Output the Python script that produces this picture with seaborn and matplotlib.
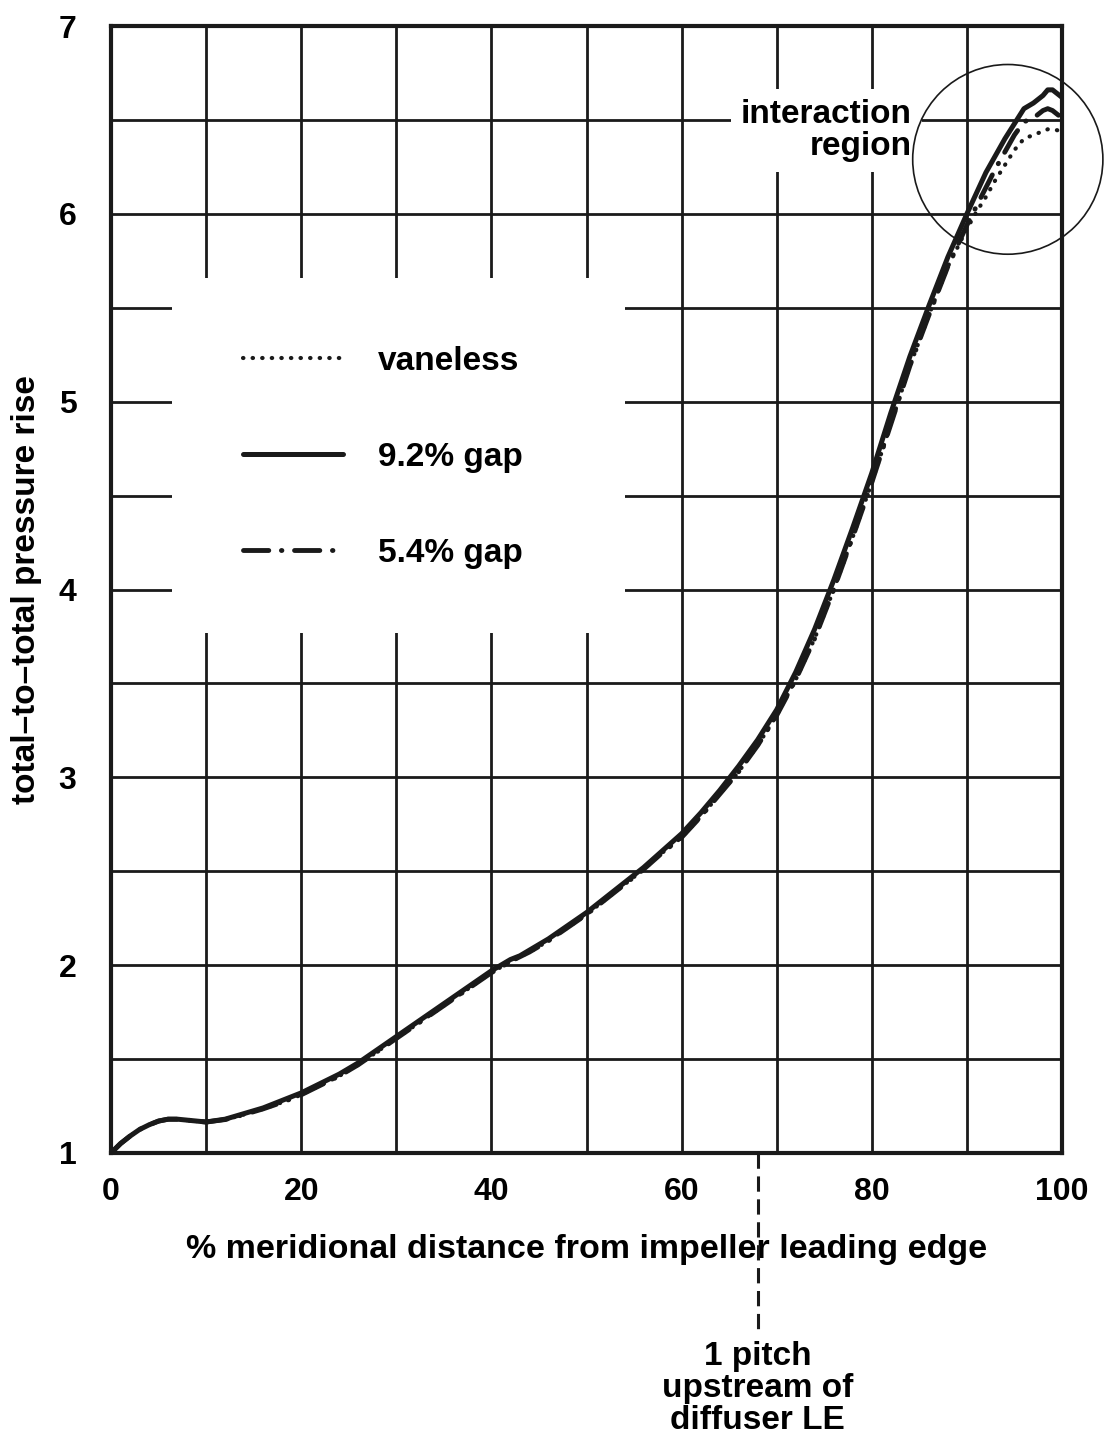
import numpy as np
import pandas as pd
import matplotlib
matplotlib.use("Agg")
import matplotlib.pyplot as plt
from matplotlib.patches import Ellipse, Rectangle
import seaborn as sns

# ---------------- data ----------------
x_pos = [0, 1, 2, 3, 4, 5, 6, 7, 8, 9, 10, 12, 14, 16, 18, 20, 22, 24, 26, 28,
         30, 32, 34, 36, 38, 40, 41, 42, 43, 44, 46, 48, 50, 52, 54, 56, 58, 60,
         62, 64, 66, 68, 70, 72, 74, 76, 78, 80, 82, 84, 86, 88, 90, 91, 92, 93,
         94, 95, 96, 97, 98, 98.5, 99, 100]

gap_92 = [1.00, 1.05, 1.09, 1.125, 1.15, 1.17, 1.18, 1.18, 1.175, 1.17, 1.165,
          1.18, 1.21, 1.24, 1.28, 1.32, 1.37, 1.42, 1.48, 1.55, 1.62, 1.69, 1.76,
          1.83, 1.90, 1.97, 2.00, 2.03, 2.05, 2.08, 2.14, 2.21, 2.28, 2.36, 2.44,
          2.52, 2.61, 2.70, 2.81, 2.93, 3.06, 3.20, 3.36, 3.56, 3.79, 4.05, 4.33,
          4.62, 4.94, 5.24, 5.51, 5.77, 6.00, 6.11, 6.22, 6.31, 6.40, 6.48, 6.56,
          6.59, 6.63, 6.66, 6.66, 6.62]

gap_54 = [1.00, 1.05, 1.09, 1.125, 1.15, 1.17, 1.18, 1.18, 1.175, 1.17, 1.165,
          1.178, 1.205, 1.235, 1.27, 1.31, 1.36, 1.41, 1.47, 1.54, 1.61, 1.68,
          1.75, 1.82, 1.89, 1.96, 1.99, 2.02, 2.045, 2.07, 2.13, 2.20, 2.27, 2.35,
          2.43, 2.51, 2.60, 2.68, 2.79, 2.91, 3.03, 3.17, 3.33, 3.52, 3.74, 4.00,
          4.28, 4.57, 4.88, 5.19, 5.46, 5.72, 5.94, 6.04, 6.14, 6.24, 6.33, 6.42,
          6.49, 6.51, 6.55, 6.56, 6.55, 6.51]

vaneless = [1.00, 1.05, 1.09, 1.125, 1.15, 1.17, 1.18, 1.18, 1.175, 1.17, 1.165,
            1.178, 1.205, 1.235, 1.27, 1.31, 1.36, 1.41, 1.47, 1.54, 1.61, 1.68,
            1.75, 1.82, 1.89, 1.96, 1.99, 2.02, 2.045, 2.07, 2.13, 2.20, 2.27, 2.35,
            2.43, 2.51, 2.60, 2.68, 2.79, 2.91, 3.03, 3.17, 3.33, 3.52, 3.74, 4.00,
            4.28, 4.57, 4.88, 5.19, 5.46, 5.72, 5.92, 6.01, 6.09, 6.18, 6.26, 6.34,
            6.40, 6.42, 6.44, 6.45, 6.45, 6.44]

series_labels = ["vaneless", "9.2% gap", "5.4% gap"]
x_ticks = [0, 20, 40, 60, 80, 100]
y_ticks = [1, 2, 3, 4, 5, 6, 7]
pitch_x = 68

# ---------------- style ----------------
sns.set_theme(style="white")
plt.rcParams["font.family"] = ["Liberation Sans", "DejaVu Sans"]
plt.rcParams["font.weight"] = "bold"
for key in ["text.color", "axes.labelcolor", "xtick.color", "ytick.color",
            "axes.edgecolor"]:
    plt.rcParams[key] = "black"

fig = plt.figure(figsize=(11.04, 14.39), dpi=100)
ax = fig.add_axes([111 / 1104, 1 - 1153 / 1439, 951 / 1104, 1127 / 1439])

FS = 24

sns.lineplot(x=x_pos, y=vaneless, ax=ax, color="k", lw=3.0,
             linestyle=(0, (0.1, 2.2)), dash_capstyle="round", zorder=3)
sns.lineplot(x=x_pos, y=gap_54, ax=ax, color="k", lw=3.5,
             linestyle=(0, (5.2, 2.6, 0.1, 2.6)), dash_capstyle="round", zorder=3)
sns.lineplot(x=x_pos, y=gap_92, ax=ax, color="k", lw=3.6,
             solid_capstyle="round", zorder=4)

ax.set_xlim(0, 100)
ax.set_ylim(1, 7)
ax.set_xticks(x_ticks)
ax.set_xticks([10, 30, 50, 70, 90], minor=True)
ax.set_yticks(y_ticks)
ax.set_yticks(np.arange(1.5, 7, 1.0), minor=True)
ax.set_xticklabels([str(v) for v in x_ticks], fontsize=23, fontweight="bold",
                   color="black")
ax.set_yticklabels([str(v) for v in y_ticks], fontsize=23, fontweight="bold",
                   color="black")
ax.tick_params(axis="x", which="both", length=0, pad=17)
ax.tick_params(axis="y", which="both", length=0, pad=25)
ax.set_axisbelow(True)
ax.grid(True, which="both", color="k", lw=2.0)
for sp in ax.spines.values():
    sp.set_color("k")
    sp.set_linewidth(3.0)
    sp.set_zorder(6)

ax.set_xlabel("% meridional distance from impeller leading edge",
              fontsize=24.5, fontweight="bold", labelpad=20, color="black")
ax.set_ylabel("total–to–total pressure rise", fontsize=FS, fontweight="bold",
              labelpad=12, color="black")

# white legend area covering the grid
ax.add_patch(Rectangle((6.4, 3.77), 54.0 - 6.4, 5.66 - 3.77, facecolor="white",
                       edgecolor="none", zorder=1))
lines = ax.get_lines()
handles = [lines[0], lines[2], lines[1]]
leg = ax.legend(handles, series_labels, loc="upper left",
                bbox_to_anchor=(0.139, 0.716), frameon=False,
                prop={"size": FS, "weight": "bold"}, handlelength=3.0,
                handletextpad=1.05, labelspacing=1.95, borderpad=0,
                borderaxespad=0)
for t in leg.get_texts():
    t.set_color("black")
leg.set_zorder(5)

# interaction region
ax.add_patch(Ellipse((94.3, 6.29), 20.0, 1.01, fill=False, edgecolor="k",
                     lw=1.2, clip_on=False, zorder=7))
ax.text(84.2, 6.445, "interaction\nregion", ha="right", va="center",
        multialignment="right", fontsize=FS, fontweight="bold", linespacing=1.05,
        color="black",
        bbox=dict(boxstyle="square,pad=0.3", facecolor="white", edgecolor="none"),
        zorder=5)

# 1 pitch upstream marker
ax.plot([pitch_x, pitch_x], [1.0, 0.057], color="k", lw=2.2,
        linestyle=(0, (5, 2.5)), clip_on=False, zorder=6)
ax.text(pitch_x, 0.0, "1 pitch\nupstream of\ndiffuser LE", ha="center", va="top",
        fontsize=FS, fontweight="bold", linespacing=1.05, color="black")

fig.savefig("out.png", dpi=100, facecolor="white")
